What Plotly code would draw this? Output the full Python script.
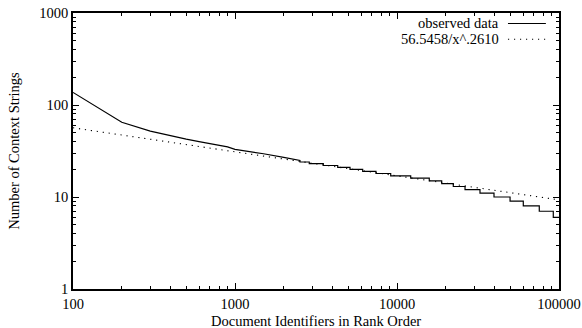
import plotly.graph_objects as go

# Observed data: smooth head (rank, count)
head_rank = [100, 200, 300, 400, 500, 600, 700, 800, 900, 1000, 1200, 1500, 2000, 2518]
head_count = [137, 65, 52, 46, 42.5, 40, 38, 36.5, 35, 33, 31.5, 29.5, 27, 25]

# Observed data: staircase tail — integer count levels and rank where each level ends
step_count = [24, 23, 22, 21, 20, 19, 18, 17, 16, 15, 14, 13, 12, 11, 10, 9, 8, 7, 6]
step_end_rank = [2874, 3508, 4305, 5128, 6141, 7418, 9144, 12150, 15820, 18880,
                 22260, 26300, 32530, 39700, 49880, 60200, 75560, 92200, 100000]

# Fit line endpoints: 56.5458/x^.2610 (x in hundreds of documents)
fit_rank = [100, 100000]
fit_count = [56.5458, 9.3]

# build observed series
obs_x = list(head_rank)
obs_y = list(head_count)
prev_end = head_rank[-1]
for c, e in zip(step_count, step_end_rank):
    obs_x.append(prev_end)
    obs_y.append(c)
    obs_x.append(e)
    obs_y.append(c)
    prev_end = e

FONT = "Liberation Serif"
FS = 14.5
DOT = "1.2px,4.8px"

fig = go.Figure()
fig.add_trace(go.Scatter(x=obs_x, y=obs_y, mode="lines",
                         line=dict(color="black", width=1.2),
                         name="observed data", showlegend=False))
fig.add_trace(go.Scatter(x=fit_rank, y=fit_count, mode="lines",
                         line=dict(color="black", width=1.1, dash=DOT),
                         name="56.5458/x^.2610", showlegend=False))

axis_common = dict(
    type="log", showgrid=False, zeroline=False, automargin=False,
    showline=True, linecolor="black", linewidth=1.5, mirror="ticks",
    ticks="inside", ticklen=6, tickwidth=1, tickcolor="black",
    tickfont=dict(family=FONT, size=FS, color="black"),
    minor=dict(ticks="inside", ticklen=3, tickwidth=1, tickcolor="black",
               dtick="D1", showgrid=False),
)

fig.update_xaxes(**axis_common, range=[2, 5], dtick=1,
                 tickvals=[100, 1000, 10000, 100000],
                 ticktext=["100", "1000", "10000", "100000"],
                 ticklabelstandoff=1)
fig.update_yaxes(**axis_common, range=[0, 3], dtick=1,
                 tickvals=[1, 10, 100, 1000],
                 ticktext=["1", "10", "100", "1000"],
                 title=dict(text="Number of Context Strings",
                            font=dict(family=FONT, size=FS, color="black"),
                            standoff=16))

# x-axis title placed below the tick labels
fig.add_annotation(xref="paper", yref="paper", x=0.5, y=-0.117,
                   text="Document Identifiers in Rank Order", showarrow=False,
                   xanchor="center", yanchor="middle",
                   font=dict(family=FONT, size=FS, color="black"))

# gnuplot-style key: text on the left, sample on the right
legend_items = [("observed data", None), ("56.5458/x^.2610", DOT)]
for i, (label, dash) in enumerate(legend_items):
    yp = 0.962 - i * 0.057
    fig.add_annotation(xref="paper", yref="paper", x=0.881, y=yp, text=label,
                       showarrow=False, xanchor="right", yanchor="middle",
                       font=dict(family=FONT, size=FS, color="black"))
    fig.add_shape(type="line", xref="paper", yref="paper",
                  x0=0.895, x1=0.973, y0=yp, y1=yp,
                  line=dict(color="black", width=1.1, dash=dash if dash else "solid"))

fig.update_layout(
    width=582, height=328,
    margin=dict(l=73, r=23, t=13, b=39),
    paper_bgcolor="white", plot_bgcolor="white",
    font=dict(family=FONT, size=FS, color="black"),
)

fig.write_html("out.html")
